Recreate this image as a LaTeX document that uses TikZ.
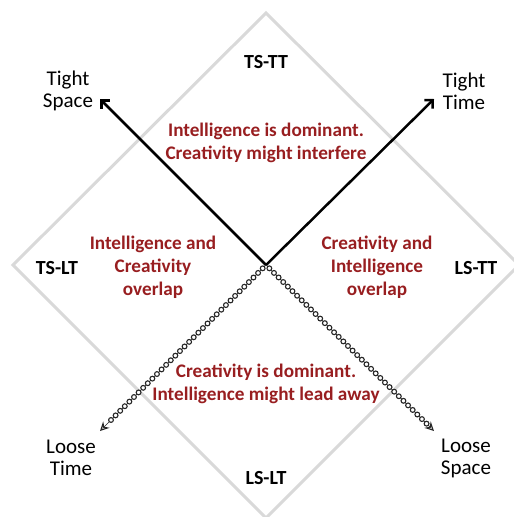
\documentclass[tikz,border=0pt]{standalone}
\usepackage{fontspec}
\setmainfont{Carlito}
\usetikzlibrary{arrows.meta, decorations.markings}

\definecolor{darkred}{RGB}{152,30,32}
\tikzset{
  frame/.style = {draw=gray!30, line width=3pt, line join=miter},
  axislabel/.style = {align=center, font=\fontsize{21}{22}\selectfont},
  corner/.style = {font=\fontsize{20}{22}\selectfont\bfseries},
  region/.style = {align=center, text=darkred, font=\fontsize{19.2}{23}\selectfont\bfseries},
  tightarrow/.style = {line width=2.5pt, -{Straight Barb[length=6pt, width=12pt, line width=2.5pt]}},
  looseline/.style = {draw=black!85, line width=0.6pt, -{Stealth[open, length=9pt, width=9pt, line width=1.2pt]},
    decoration={markings, mark=between positions 0.02 and 0.96 step 6.5pt with
      {\draw[black!85, line width=1.1pt, fill=white] (0,0) circle (2.4pt);}},
    postaction={decorate}}
}

\begin{document}
\begin{tikzpicture}[x=1pt, y=-1pt]
	\useasboundingbox (0,0) rectangle (514,517);

	% outer diamond
	\draw [frame] (266,13) -- (519,265) -- (266,518) -- (13,265) -- cycle;

	% axis ends
	\coordinate (o) at (266,265);
	\coordinate (ts) at (100,99);
	\coordinate (tt) at (434,99);
	\coordinate (lt) at (100,431);
	\coordinate (ls) at (434,431);

	\draw [tightarrow] (o) -- (ts);
	\draw [tightarrow] (o) -- (tt);
	\draw [looseline] (o) -- (lt);
	\draw [looseline] (o) -- (ls);

	% axis labels
	\node (tsl) [axislabel] at (68,91) {Tight\\Space};
	\node (ttl) [axislabel] at (464,91) {Tight\\Time};
	\node (ltl) [axislabel] at (71,458) {Loose\\Time};
	\node (lsl) [axislabel] at (466,458) {Loose\\Space};

	% corners
	\node (tstt) [corner] at (266,62) {TS-TT};
	\node (tslt) [corner] at (57,268) {TS-LT};
	\node (lstt) [corner] at (476,268) {LS-TT};
	\node (lslt) [corner] at (266,478) {LS-LT};

	% regions
	\node (top) [region] at (266,143) {Intelligence is dominant.\\Creativity might interfere};
	\node (left) [region] at (153,267) {Intelligence and\\Creativity\\overlap};
	\node (right) [region] at (377,267) {Creativity and\\Intelligence\\overlap};
	\node (bottom) [region] at (266,384) {Creativity is dominant.\\Intelligence might lead away};
\end{tikzpicture}
\end{document}
